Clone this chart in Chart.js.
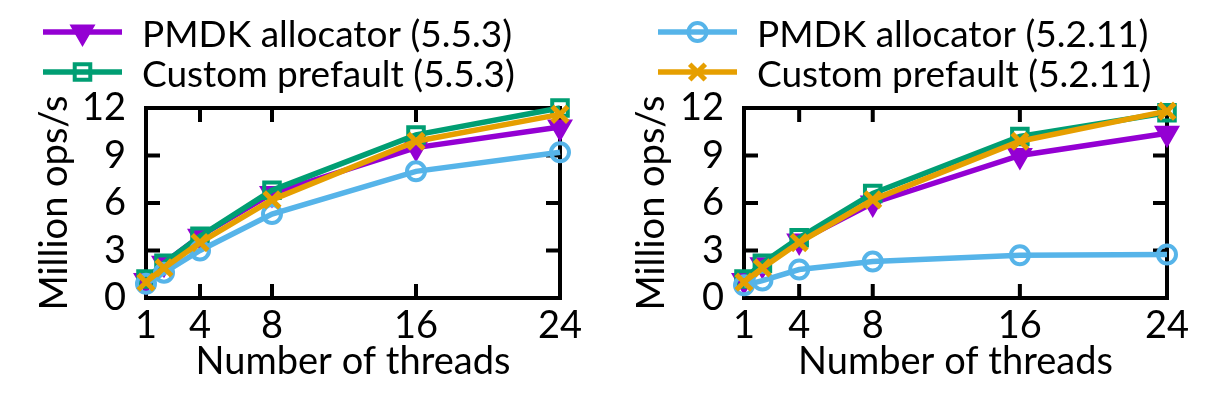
<!DOCTYPE html>
<html lang="en">
<head>
<meta charset="UTF-8">
<title>Million ops/s vs number of threads</title>
<script src="https://cdn.jsdelivr.net/npm/chart.js@4"></script>
<style>
  body { margin: 0; background: #fff; width: 1212px; height: 398px; overflow: hidden; display: flex; }
  .panel { width: 606px; height: 398px; }
</style>
</head>
<body>
<div class="panel"><canvas id="left" width="606" height="398"></canvas></div>
<div class="panel"><canvas id="right" width="606" height="398"></canvas></div>
<script>
// data
const threads = [1, 2, 4, 8, 16, 24];
const xTickValues = [1, 4, 8, 16, 24];
const yTickValues = [0, 3, 6, 9, 12];
const seriesNames = ['PMDK allocator (5.5.3)', 'Custom prefault (5.5.3)', 'PMDK allocator (5.2.11)', 'Custom prefault (5.2.11)'];

// left panel
const leftPmdk553   = [1.1, 2.2, 3.9, 6.6, 9.5, 10.8];
const leftCustom553 = [1.2, 2.2, 3.9, 6.8, 10.3, 12.0];
const leftPmdk5211  = [0.9, 1.6, 3.0, 5.3, 8.0, 9.2];
const leftCustom5211 = [1.0, 1.9, 3.5, 6.2, 9.9, 11.6];

// right panel
const rightPmdk553   = [1.1, 2.1, 3.6, 6.0, 9.0, 10.4];
const rightCustom553 = [1.2, 2.2, 3.8, 6.6, 10.2, 11.7];
const rightPmdk5211  = [0.8, 1.1, 1.8, 2.3, 2.7, 2.75];
const rightCustom5211 = [1.0, 1.9, 3.5, 6.2, 9.9, 11.8];

const styles = [
  { color: '#9400d3', pointStyle: 'triangle', rotation: 180, radius: 13, fill: '#9400d3', bw: 2, order: 4 },
  { color: '#009e73', pointStyle: 'rect', rotation: 0, radius: 11, fill: 'rgba(0,0,0,0)', bw: 4, order: 3 },
  { color: '#56b4e9', pointStyle: 'circle', rotation: 0, radius: 9, fill: 'rgba(0,0,0,0)', bw: 4, order: 2 },
  { color: '#e69f00', pointStyle: 'crossRot', rotation: 0, radius: 11, fill: '#e69f00', bw: 5, order: 1 }
];

const FONT = 'Lato, "Open Sans", sans-serif';
Chart.defaults.font.family = FONT;
Chart.defaults.font.size = 38;
Chart.defaults.color = '#000';

function makeDatasets(series) {
  return series.map((vals, i) => {
    const s = styles[i];
    return {
      label: seriesNames[i],
      data: vals.map((v, k) => ({ x: threads[k], y: v })),
      borderColor: s.color,
      backgroundColor: s.color,
      borderWidth: 5.5,
      pointStyle: s.pointStyle,
      pointRotation: s.rotation,
      pointRadius: s.radius,
      pointBackgroundColor: s.fill,
      pointBorderColor: s.color,
      pointBorderWidth: s.bw,
      order: s.order,
      clip: false,
      tension: 0
    };
  });
}

// frame with inward ticks on all four sides, drawn under the lines
const framePlugin = {
  id: 'frame',
  beforeDatasetsDraw(chart) {
    const { ctx, chartArea: a, scales } = chart;
    const len = 14;
    ctx.save();
    ctx.strokeStyle = '#000';
    ctx.lineWidth = 4;
    ctx.beginPath();
    xTickValues.forEach(v => {
      const px = scales.x.getPixelForValue(v);
      ctx.moveTo(px, a.bottom); ctx.lineTo(px, a.bottom - len);
      ctx.moveTo(px, a.top); ctx.lineTo(px, a.top + len);
    });
    yTickValues.forEach(v => {
      const py = scales.y.getPixelForValue(v);
      ctx.moveTo(a.left, py); ctx.lineTo(a.left + len, py);
      ctx.moveTo(a.right, py); ctx.lineTo(a.right - len, py);
    });
    ctx.stroke();
    ctx.strokeRect(a.left, a.top, a.right - a.left, a.bottom - a.top);
    ctx.restore();
  }
};

// two-row key above the plot
const keyPlugin = {
  id: 'key',
  afterDraw(chart, args, opts) {
    const { ctx } = chart;
    ctx.save();
    opts.items.forEach((idx, row) => {
      const ds = chart.data.datasets[idx];
      const y = opts.y0 + row * opts.dy;
      ctx.strokeStyle = ds.borderColor;
      ctx.lineWidth = 5.5;
      ctx.beginPath();
      ctx.moveTo(opts.x0, y);
      ctx.lineTo(opts.x1, y);
      ctx.stroke();
      ctx.fillStyle = ds.pointBackgroundColor;
      ctx.strokeStyle = ds.pointBorderColor;
      ctx.lineWidth = ds.pointBorderWidth;
      Chart.helpers.drawPoint(ctx, {
        pointStyle: ds.pointStyle, rotation: ds.pointRotation,
        radius: ds.pointRadius, borderWidth: ds.pointBorderWidth
      }, (opts.x0 + opts.x1) / 2, y);
      ctx.fillStyle = '#000';
      ctx.font = '37px ' + FONT;
      ctx.textBaseline = 'alphabetic';
      ctx.textAlign = 'left';
      ctx.fillText(ds.label, opts.tx, y + 15);
    });
    ctx.restore();
  }
};

function makeChart(id, series, keyItems, pad, titlePad, keyPos) {
  return new Chart(document.getElementById(id), {
    type: 'line',
    data: { datasets: makeDatasets(series) },
    plugins: [framePlugin, keyPlugin],
    options: {
      responsive: false,
      animation: false,
      devicePixelRatio: 1,
      layout: { padding: { left: 0, right: pad.right, top: 108, bottom: 0 } },
      plugins: {
        legend: { display: false },
        tooltip: { enabled: false },
        key: Object.assign({ items: keyItems, y0: 32, dy: 40 }, keyPos)
      },
      scales: {
        x: {
          type: 'linear', min: 1, max: 24,
          afterBuildTicks: s => { s.ticks = xTickValues.map(v => ({ value: v })); },
          afterFit: s => { s.height = 100; },
          grid: { display: false, drawTicks: false },
          border: { display: false },
          ticks: { padding: 5, maxRotation: 0, autoSkip: false },
          title: { display: true, text: 'Number of threads', padding: { top: 0, bottom: 13 } }
        },
        y: {
          min: 0, max: 12,
          afterBuildTicks: s => { s.ticks = yTickValues.map(v => ({ value: v })); },
          afterFit: s => { s.width = pad.left; },
          grid: { display: false, drawTicks: false },
          border: { display: false },
          ticks: { padding: 20, autoSkip: false },
          title: { display: true, text: 'Million ops/s', padding: { top: titlePad, bottom: 0 } }
        }
      }
    }
  });
}

makeChart('left', [leftPmdk553, leftCustom553, leftPmdk5211, leftCustom5211], [0, 1],
  { left: 146, right: 46 }, 32, { x0: 43, x1: 122, tx: 142 });
makeChart('right', [rightPmdk553, rightCustom553, rightPmdk5211, rightCustom5211], [2, 3],
  { left: 138, right: 45 }, 23, { x0: 52, x1: 131, tx: 151 });
</script>
</body>
</html>
